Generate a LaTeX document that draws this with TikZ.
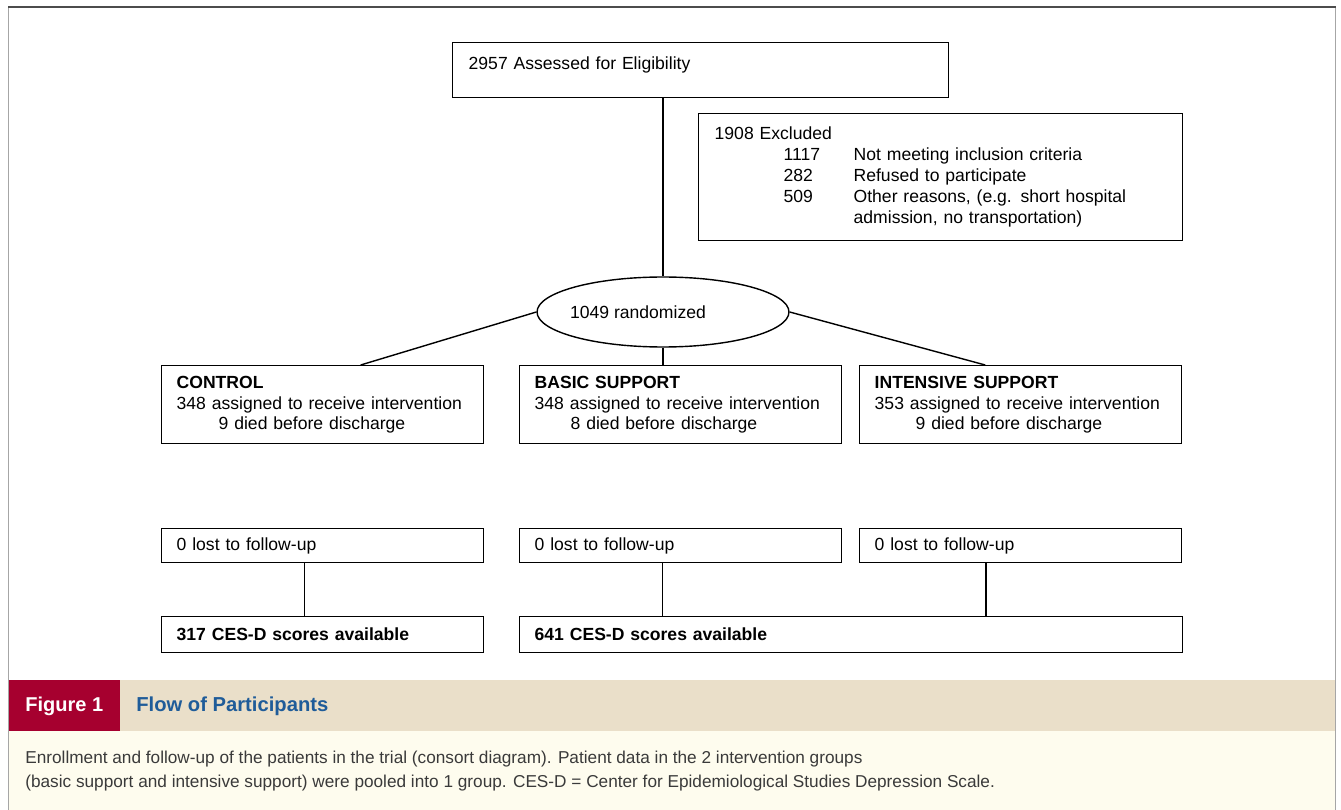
\documentclass[tikz,border=0pt]{standalone}
\usepackage{fontspec}
\setmainfont{Liberation Sans}
\usepackage{tikz}
\usetikzlibrary{positioning,shapes.geometric,calc}
\usepackage{xcolor}
\definecolor{capred}{HTML}{A6002F}
\definecolor{capblue}{HTML}{1F5C99}
\definecolor{capbeige}{HTML}{EADFC9}
\definecolor{capcream}{HTML}{FEFCEE}
\definecolor{captext}{HTML}{3A3A3A}

\begin{document}
\begin{tikzpicture}[
    x=0.02cm, y=-0.02cm,
    font=\fontsize{10}{11.9}\selectfont,
    box/.style={draw, line width=0.8pt, anchor=north west, align=left, inner xsep=0.3cm, inner ysep=0pt},
    grpbox/.style={box, text width=5.84cm, minimum height=1.56cm},
    lostbox/.style={box, text width=5.84cm, minimum height=0.68cm},
    link/.style={line width=0.8pt},
  ]
    \useasboundingbox (0,0) rectangle (1341,810);
    % frame and caption band
    \fill[capcream] (9,731) rectangle (1335,810);
    \fill[capbeige] (9,680) rectangle (1335,731);
    \fill[capred] (9,680) rectangle (120,731);
    \draw[black!35, line width=1pt] (8.5,810) -- (8.5,7) (1335.5,7) -- (1335.5,810);
    \draw[black!70, line width=1.2pt] (8,7) -- (1336,7);
    \node[anchor=west, inner sep=0, text=white, font=\bfseries\fontsize{11.4}{13}\selectfont] (fignum) at (25,706) {Figure 1};
    \node[anchor=west, inner sep=0, text=capblue, font=\bfseries\fontsize{11.5}{13}\selectfont] (figtitle) at (136,706) {Flow of Participants};
    \node[anchor=north west, inner sep=0, text=captext, align=left, font=\fontsize{9.8}{13.7}\selectfont] (figcap) at (25,751)
      {Enrollment and follow-up of the patients in the trial (consort diagram). Patient data in the 2 intervention groups\\
       (basic support and intensive support) were pooled into 1 group. CES-D = Center for Epidemiological Studies Depression Scale.};

    % flow chart
    \node[box, text width=9.28cm, minimum height=1.1cm, inner xsep=0.32cm] (assess) at (452,42)
      {2957 Assessed for Eligibility\rule[-0.3cm]{0pt}{0pt}};
    \node[box, text width=9.04cm, minimum height=2.54cm, inner xsep=0.32cm] (excluded) at (698,113)
      {\begin{tabular}{@{\hspace{1.38cm}}p{1.4cm}@{}l@{}}
        \multicolumn{2}{@{}l}{1908 Excluded}\\
        1117 & Not meeting inclusion criteria\\
        282 & Refused to participate\\
        509 & Other reasons, (e.g. short hospital\\
            & admission, no transportation)
       \end{tabular}};
    \node[ellipse, draw, line width=0.8pt, minimum width=5.04cm, minimum height=1.4cm] (rand) at (663,312)
      {\makebox[0pt]{1049 randomized\kern1cm}};

    \node[grpbox] (control) at (161,365)
      {\textbf{CONTROL}\\348 assigned to receive intervention\\\hspace*{0.84cm}9 died before discharge};
    \node[grpbox] (basic) at (519,365)
      {\textbf{BASIC SUPPORT}\\348 assigned to receive intervention\\\hspace*{0.72cm}8 died before discharge};
    \node[grpbox] (intensive) at (859,365)
      {\textbf{INTENSIVE SUPPORT}\\353 assigned to receive intervention\\\hspace*{0.82cm}9 died before discharge};

    \node[lostbox] (lostc) at (161,528) {0 lost to follow-up};
    \node[lostbox] (lostb) at (519,528) {0 lost to follow-up};
    \node[lostbox] (losti) at (859,528) {0 lost to follow-up};

    \node[box, text width=5.84cm, minimum height=0.72cm] (scorec) at (161,616) {\textbf{317 CES-D scores available}};
    \node[box, text width=12.66cm, minimum height=0.72cm] (scorep) at (519,616) {\textbf{641 CES-D scores available}};

    \draw[link] (rand.north |- assess.south) -- (rand.north);
    \draw[link] (rand.west) -- ([xshift=0.76cm]control.north);
    \draw[link] (rand.south) -- (rand.south |- basic.north);
    \draw[link] (rand.east) -- ([xshift=-0.71cm]intensive.north);
    \draw[link] ([xshift=-0.36cm]lostc.south) -- ([xshift=-0.36cm]lostc.south |- scorec.north);
    \draw[link] ([xshift=-0.36cm]lostb.south) -- ([xshift=-0.36cm]lostb.south |- scorep.north);
    \draw[link] ([xshift=-0.69cm]losti.south) -- ([xshift=-0.69cm]losti.south |- scorep.north);
  \end{tikzpicture}
\end{document}
